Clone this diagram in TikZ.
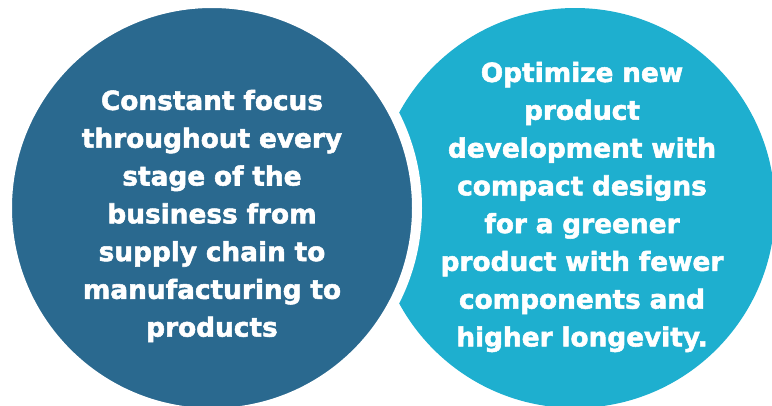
\documentclass[tikz,border=0pt]{standalone}
\usepackage{fontspec}
\setmainfont{DejaVu Sans}[BoldFeatures={FakeBold=2}]
\usetikzlibrary{positioning}
\definecolor{darkteal}{RGB}{42,105,143}
\definecolor{skyteal}{RGB}{30,175,207}
\tikzset{
  bubble/.style={circle, inner sep=0pt, outer sep=0pt},
  blurb/.style={align=center, text=white, inner sep=0pt,
    font=\fontsize{15}{21.5}\selectfont\bfseries}
}
\begin{document}
\begin{tikzpicture}
				\useasboundingbox (0,0) rectangle (15.44,8.1);

				% Right circle
				\node[bubble, fill=skyteal, minimum size=8cm] (right) at (11.5,3.94) {};
				\node[blurb, text width=5.8cm] (righttext) at (11.64,3.96) {Optimize new\\ product\\ development with\\ compact designs\\ for a greener\\ product with fewer\\ components and\\ higher longevity.};

				% Left circle (white ring on top of the right one)
				\node[bubble, fill=darkteal, draw=white, line width=2mm, minimum size=8.2cm] (left) at (4.24,3.94) {};
				\node[blurb, text width=5.6cm] (lefttext) at (4.24,3.78) {Constant focus\\ throughout every\\ stage of the\\ business from\\ supply chain to\\ manufacturing to\\ products};
\end{tikzpicture}
\end{document}
